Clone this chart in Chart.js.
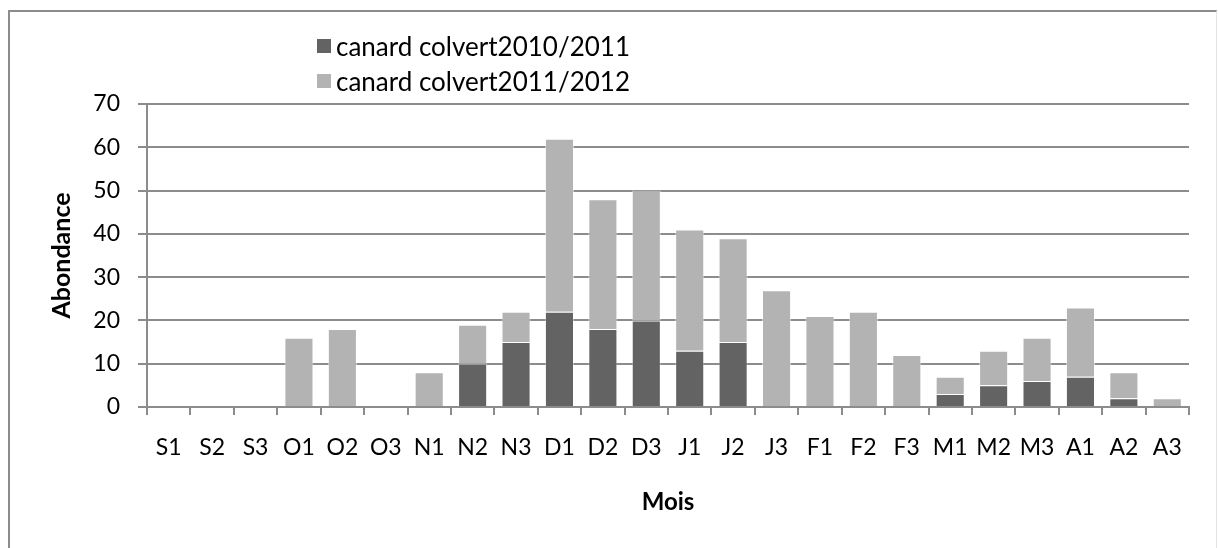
<!DOCTYPE html>
<html lang="fr">
<head>
<meta charset="utf-8">
<title>Canard colvert - abondance</title>
<script src="https://cdn.jsdelivr.net/npm/chart.js@4.4.1/dist/chart.umd.min.js"></script>
<style>
    body { margin: 0; background: #fff; }
    #wrap { position: relative; width: 1218px; height: 548px; overflow: hidden; }
    #frame {
        position: absolute; left: 8px; top: 10px; width: 1206px; height: 600px;
        border-left: 2px solid #8c8c8c; border-top: 2px solid #8c8c8c; border-right: 1px solid #e4e4e4;
    }
    #legend { position: absolute; left: 317px; top: 28px; font-family: Lato, sans-serif; font-size: 26px; color: #000; }
    #legend .item { display: flex; align-items: center; height: 35px; }
    #legend .box { width: 14px; height: 14px; margin-right: 5px; }
    canvas { position: absolute; left: 0; top: 0; }
</style>
</head>
<body>
<div id="wrap">
    <div id="frame"></div>
    <canvas id="chart" width="1218" height="548"></canvas>
    <div id="legend"></div>
</div>
<script>
// Données
const mois = ['S1', 'S2', 'S3', 'O1', 'O2', 'O3', 'N1', 'N2', 'N3', 'D1', 'D2', 'D3',
              'J1', 'J2', 'J3', 'F1', 'F2', 'F3', 'M1', 'M2', 'M3', 'A1', 'A2', 'A3'];
const colvert2010 = [0, 0, 0, 0, 0, 0, 0, 10, 15, 22, 18, 20, 13, 15, 0, 0, 0, 0, 3, 5, 6, 7, 2, 0];
const colvert2011 = [0, 0, 0, 16, 18, 0, 8, 9, 7, 40, 30, 30, 28, 24, 27, 21, 22, 12, 4, 8, 10, 16, 6, 2];
const seriesNames = ['canard colvert2010/2011', 'canard colvert2011/2012'];
const yMin = 0, yMax = 70, yStep = 10;

const gridColor = '#8c8c8c';
const fontFamily = 'Lato, sans-serif';

const ctx = document.getElementById('chart').getContext('2d');

const chart = new Chart(ctx, {
    type: 'bar',
    data: {
        labels: mois,
        datasets: [
            {
                label: seriesNames[0],
                data: colvert2010,
                backgroundColor: '#636363',
                borderColor: 'rgba(255,255,255,0.35)',
                borderWidth: 1,
                barPercentage: 0.67,
                categoryPercentage: 1
            },
            {
                label: seriesNames[1],
                data: colvert2011,
                backgroundColor: '#b3b3b3',
                borderColor: 'rgba(255,255,255,0.5)',
                borderWidth: 1,
                barPercentage: 0.67,
                categoryPercentage: 1
            }
        ]
    },
    options: {
        responsive: false,
        animation: false,
        layout: { padding: { left: 0, top: 104, right: 29, bottom: 21 } },
        plugins: {
            legend: { display: false },
            tooltip: { enabled: false }
        },
        scales: {
            x: {
                stacked: true,
                afterFit: function(scale) { scale.height = 120; },
                grid: {
                    drawOnChartArea: false,
                    drawTicks: true,
                    tickLength: 8,
                    color: gridColor,
                    lineWidth: 2
                },
                border: { display: true, color: gridColor, width: 2 },
                ticks: {
                    autoSkip: false,
                    maxRotation: 0,
                    padding: 19,
                    color: '#000',
                    font: { family: fontFamily, size: 23 }
                },
                title: {
                    display: true,
                    text: 'Mois',
                    color: '#000',
                    padding: { top: 0, bottom: 10 },
                    font: { family: fontFamily, size: 24, weight: 'bold' }
                }
            },
            y: {
                stacked: true,
                min: yMin,
                max: yMax,
                afterFit: function(scale) { scale.width = 147; },
                grid: {
                    drawTicks: true,
                    tickLength: 9,
                    color: gridColor,
                    lineWidth: 2
                },
                border: { display: true, color: gridColor, width: 2 },
                ticks: {
                    stepSize: yStep,
                    padding: 18,
                    color: '#000',
                    font: { family: fontFamily, size: 23 }
                },
                title: {
                    display: true,
                    text: 'Abondance',
                    color: '#000',
                    padding: { top: 47, bottom: 0 },
                    font: { family: fontFamily, size: 25, weight: 'bold' }
                }
            }
        }
    }
});

// Légende HTML construite à partir des éléments de légende de Chart.js
const legendBox = document.getElementById('legend');
const items = chart.options.plugins.legend.labels.generateLabels(chart);
items.forEach(item => {
    const row = document.createElement('div');
    row.className = 'item';
    const box = document.createElement('span');
    box.className = 'box';
    box.style.background = item.fillStyle;
    const txt = document.createElement('span');
    txt.textContent = item.text;
    row.appendChild(box);
    row.appendChild(txt);
    legendBox.appendChild(row);
});
</script>
</body>
</html>
